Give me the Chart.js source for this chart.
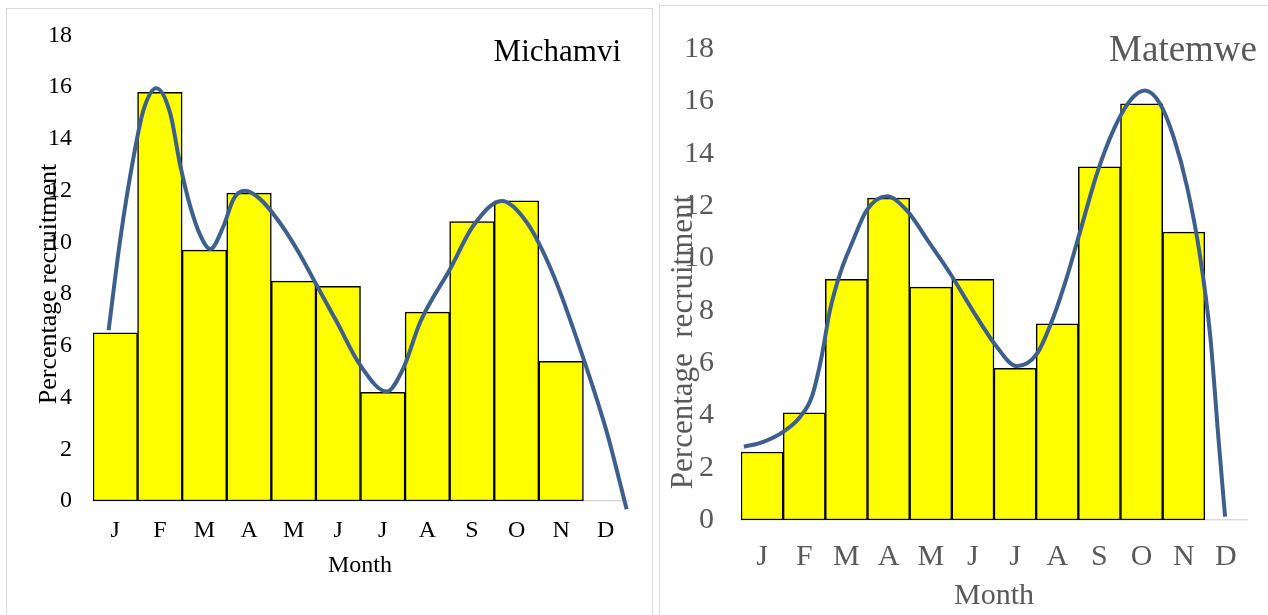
<!DOCTYPE html>
<html>
<head>
<meta charset="utf-8">
<script src="https://cdn.jsdelivr.net/npm/chart.js@4.4.0/dist/chart.umd.min.js"></script>
<style>
  body { margin: 0; width: 1268px; height: 615px; overflow: hidden; background: #fff; position: relative; }
  .panel { position: absolute; border: 1px solid #d9d9d9; }
  canvas { position: absolute; top: 0; }
</style>
</head>
<body>
<div class="panel" style="left:6px; top:8px; width:645px; height:640px;"></div>
<div class="panel" style="left:659px; top:5px; width:640px; height:640px;"></div>
<canvas id="michamviChart" width="655" height="615" style="left:0px"></canvas>
<canvas id="matemweChart" width="613" height="615" style="left:655px"></canvas>
<script>
// Meses e percentuais
const months = ["J", "F", "M", "A", "M", "J", "J", "A", "S", "O", "N", "D"];
const yTicks = [0, 2, 4, 6, 8, 10, 12, 14, 16, 18];

const michamviPct = [6.5, 15.8, 9.7, 11.9, 8.5, 8.3, 4.2, 7.3, 10.8, 11.6, 5.4, null];
const matemwePct = [2.6, 4.1, 9.2, 12.3, 8.9, 9.2, 5.8, 7.5, 13.5, 15.9, 11.0, null];

// Curva suavizada (posição no eixo dos meses, 0 = início de J, 12 = fim de D)
const michamviTrendX = [0.35, 0.61, 0.91, 1.13, 1.42, 1.73, 1.96, 2.18, 2.41, 2.63, 2.93, 3.15, 3.41, 3.75, 4.13,
  4.57, 5.02, 5.47, 5.99, 6.59, 6.96, 7.34, 8.01, 8.53, 9.17, 9.73, 10.33, 11.0, 11.52, 11.97];
const michamviTrendY = [6.6, 10.1, 13.3, 15.1, 15.96, 15.0, 12.95, 11.4, 10.26, 9.74, 10.64, 11.67, 11.99, 11.67, 10.9,
  9.74, 8.33, 6.92, 5.26, 4.23, 5.13, 6.92, 8.97, 10.64, 11.6, 10.77, 8.72, 5.51, 2.69, -0.32];

const matemweTrendX = [0.07, 0.53, 1.0, 1.4, 1.68, 1.91, 2.11, 2.35, 2.66, 2.98, 3.46, 3.93, 4.48, 4.96, 5.59, 6.07,
  6.53, 7.02, 7.41, 7.73, 8.05, 8.44, 8.83, 9.23, 9.58, 9.94, 10.26, 10.58, 10.89, 11.13, 11.32, 11.48];
const matemweTrendY = [2.8, 2.99, 3.37, 3.94, 4.71, 6.23, 8.02, 9.42, 10.69, 11.83, 12.37, 11.83, 10.56, 9.42, 7.76, 6.61,
  5.88, 6.36, 7.76, 9.29, 11.07, 13.23, 14.89, 16.03, 16.41, 15.9, 14.63, 12.72, 10.05, 7.0, 3.18, 0.13];

const FONT = '"Liberation Serif", "Times New Roman", serif';

// Textos do painel (título, eixos) desenhados por cima
const panelText = {
  id: "panelText",
  afterDraw(chart, args, o) {
    const ctx = chart.ctx;
    ctx.save();
    ctx.fillStyle = o.color;
    ctx.font = o.titleSize + "px " + FONT;
    ctx.textAlign = "right";
    ctx.textBaseline = "alphabetic";
    ctx.fillText(o.title, o.titleX, o.titleY);
    ctx.font = o.size + "px " + FONT;
    ctx.textAlign = "center";
    ctx.textBaseline = "middle";
    ctx.fillText(o.xTitle, o.xTitleX, o.xTitleY);
    ctx.font = o.ySize + "px " + FONT;
    ctx.translate(o.yTitleX, o.yTitleY);
    ctx.rotate(-Math.PI / 2);
    ctx.fillText(o.yTitle, 0, 0);
    ctx.restore();
  }
};

function buildChart(id, values, trendX, trendY, cfg) {
  const ctx = document.getElementById(id).getContext("2d");
  return new Chart(ctx, {
    type: "bar",
    data: {
      labels: months,
      datasets: [
        {
          type: "line",
          data: trendX.map((x, i) => ({ x: x, y: trendY[i] })),
          xAxisID: "xc",
          borderColor: "#3d5f8d",
          borderWidth: 4,
          pointRadius: 0,
          cubicInterpolationMode: "monotone",
          clip: false,
          order: 0
        },
        {
          data: values,
          xAxisID: "x",
          backgroundColor: "#ffff00",
          borderColor: "#000000",
          borderWidth: 1.5,
          borderSkipped: false,
          grouped: false,
          barPercentage: 1,
          categoryPercentage: 1,
          order: 1
        }
      ]
    },
    options: {
      responsive: false,
      devicePixelRatio: 1,
      animation: false,
      layout: { padding: { left: 0, right: cfg.padRight, top: cfg.padTop, bottom: 0 } },
      plugins: {
        legend: { display: false },
        tooltip: { enabled: false },
        panelText: cfg.text
      },
      scales: {
        x: {
          type: "category",
          offset: true,
          grid: { display: false, drawTicks: false },
          border: { display: true, color: "#d9d9d9", width: 1.5 },
          ticks: { color: cfg.color, font: { family: FONT, size: cfg.tickSize }, padding: cfg.xPad, maxRotation: 0 },
          afterFit: s => { s.height = cfg.xHeight; }
        },
        xc: { type: "linear", display: false, offset: false, min: 0, max: 12, grid: { offset: false } },
        y: {
          min: 0,
          max: 18,
          grid: { display: false, drawTicks: false },
          border: { display: false },
          afterBuildTicks: s => { s.ticks = yTicks.map(v => ({ value: v })); },
          ticks: { color: cfg.color, font: { family: FONT, size: cfg.tickSize }, padding: cfg.yPad },
          afterFit: s => { s.width = cfg.yWidth; }
        }
      }
    },
    plugins: [panelText]
  });
}

buildChart("michamviChart", michamviPct, michamviTrendX, michamviTrendY, {
  color: "#000000", tickSize: 24, padRight: 27, padTop: 32, xHeight: 114, yWidth: 93, xPad: 15, yPad: 21,
  text: {
    color: "#000000", size: 24, ySize: 26, titleSize: 31,
    title: "Michamvi", titleX: 621, titleY: 61,
    xTitle: "Month", xTitleX: 360, xTitleY: 566,
    yTitle: "Percentage recruitment", yTitleX: 49, yTitleY: 284
  }
});

buildChart("matemweChart", matemwePct, matemweTrendX, matemweTrendY, {
  color: "#595959", tickSize: 30, padRight: 21, padTop: 49, xHeight: 95, yWidth: 86, xPad: 19, yPad: 27,
  text: {
    color: "#595959", size: 30, ySize: 31, titleSize: 37,
    title: "Matemwe", titleX: 602, titleY: 61,
    xTitle: "Month", xTitleX: 339, xTitleY: 596,
    yTitle: "Percentage  recruitment", yTitleX: 29, yTitleY: 342
  }
});
</script>
</body>
</html>
